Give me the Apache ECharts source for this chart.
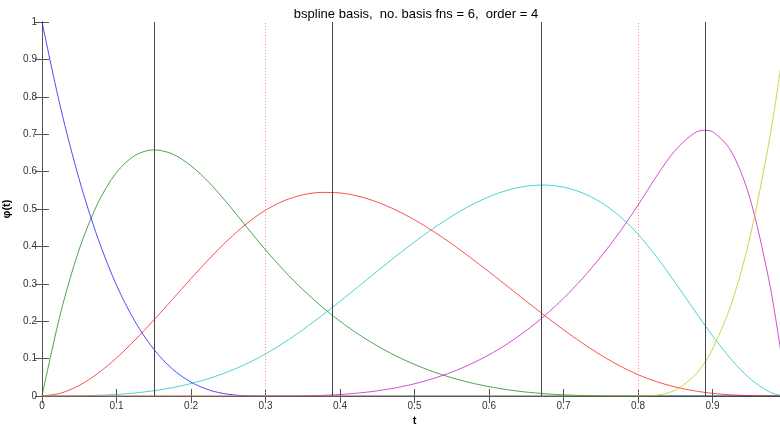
<!DOCTYPE html>
<html>
<head>
<meta charset="utf-8">
<script src="https://cdn.jsdelivr.net/npm/echarts@6/dist/echarts.min.js"></script>
<style>
  html, body { margin: 0; padding: 0; background: #fff; overflow: hidden; }
  #chart { width: 792px; height: 427px; }
</style>
</head>
<body>
<div id="chart"></div>
<script>
// Sample points along t, shared by every basis function
const tValues = [
  0, 0.025, 0.05, 0.075, 0.1, 0.125, 0.15, 0.175, 0.2, 0.225, 0.25, 0.275, 0.3,
  0.325, 0.35, 0.375, 0.4, 0.425, 0.45, 0.475, 0.5, 0.525, 0.55, 0.575, 0.6,
  0.625, 0.65, 0.675, 0.7, 0.725, 0.75, 0.775, 0.8,
  0.825, 0.85, 0.875, 0.8875, 0.9, 0.925, 0.95, 0.975, 0.9875, 1
];

// Basis function values at each t
const basis1 = [
  1, 0.7703, 0.5787, 0.4219, 0.2963, 0.1985, 0.125, 0.0723, 0.0370, 0.0156, 0.0046, 0.0006, 0,
  0, 0, 0, 0, 0, 0, 0, 0, 0, 0, 0, 0, 0, 0, 0, 0, 0, 0, 0, 0,
  0, 0, 0, 0, 0, 0, 0, 0, 0, 0
];
const basis2 = [
  0, 0.2222, 0.3924, 0.5159, 0.5978, 0.6435, 0.6582, 0.6472, 0.6157, 0.5691, 0.5125, 0.4513, 0.3906,
  0.3349, 0.2848, 0.2399, 0.2000, 0.1648, 0.1340, 0.1073, 0.0844, 0.0650, 0.0488, 0.0356, 0.0250,
  0.0167, 0.0105, 0.0061, 0.0031, 0.0013, 0.0004, 0.0000, 0,
  0, 0, 0, 0, 0, 0, 0, 0, 0, 0
];
const basis3 = [
  0, 0.0075, 0.0283, 0.0605, 0.1017, 0.1499, 0.2027, 0.2581, 0.3139, 0.3678, 0.4178, 0.4615, 0.4969,
  0.5222, 0.5378, 0.5444, 0.5429, 0.5340, 0.5185, 0.4972, 0.4710, 0.4406, 0.4068, 0.3703, 0.3321,
  0.2929, 0.2535, 0.2147, 0.1772, 0.1420, 0.1097, 0.0811, 0.0571,
  0.0383, 0.0241, 0.0140, 0.0102, 0.0071, 0.0030, 0.0009, 0.0001, 0, 0
];
const basis4 = [
  0, 0.0001, 0.0005, 0.0018, 0.0042, 0.0081, 0.0141, 0.0223, 0.0333, 0.0475, 0.0651, 0.0867, 0.1125,
  0.1428, 0.1769, 0.2140, 0.2530, 0.2932, 0.3337, 0.3736, 0.4119, 0.4479, 0.4806, 0.5092, 0.5327,
  0.5503, 0.5610, 0.5640, 0.5585, 0.5434, 0.5180, 0.4815, 0.4327,
  0.3718, 0.3031, 0.2312, 0.1957, 0.1613, 0.0982, 0.0469, 0.0126, 0.0032, 0
];
const basis5 = [
  0, 0, 0, 0, 0, 0, 0, 0, 0, 0, 0, 0, 0,
  0.0001, 0.0005, 0.0017, 0.0041, 0.0080, 0.0138, 0.0219, 0.0327, 0.0465, 0.0638, 0.0849, 0.1102,
  0.1401, 0.1750, 0.2152, 0.2612, 0.3133, 0.3719, 0.4374, 0.5102,
  0.5879, 0.6572, 0.7021, 0.7104, 0.7066, 0.6547, 0.5303, 0.3174, 0.1728, 0
];
const basis6 = [
  0, 0, 0, 0, 0, 0, 0, 0, 0, 0, 0, 0, 0,
  0, 0, 0, 0, 0, 0, 0, 0, 0, 0, 0, 0, 0, 0, 0, 0, 0, 0, 0, 0,
  0.0020, 0.0156, 0.0527, 0.0837, 0.125, 0.2441, 0.4219, 0.6699, 0.8240, 1
];

// Vertical reference lines
const solidLines = [0.147, 0.3857, 0.668, 0.894];
const interiorKnots = [0.3, 0.8];

const xTicks = [0, 0.1, 0.2, 0.3, 0.4, 0.5, 0.6, 0.7, 0.8, 0.9, 1];
const yTicks = [0, 0.1, 0.2, 0.3, 0.4, 0.5, 0.6, 0.7, 0.8, 0.9, 1];

const basisSets = [basis1, basis2, basis3, basis4, basis5, basis6];
const lineColors = ['#0000ff', '#008000', '#ff0000', '#00bfbf', '#bf00bf', '#bfbf00'];

const axisGray = '#555555';
const fontFamily = 'Liberation Sans, Arial, sans-serif';
const labelStyle = { color: '#333', fontSize: 10, fontFamily: fontFamily };

function fmt(v) { return String(Math.round(v * 10) / 10); }

const chart = echarts.init(document.getElementById('chart'), null, { renderer: 'canvas' });

const series = basisSets.map((vals, i) => ({
  type: 'line',
  xAxisIndex: 0,
  yAxisIndex: 0,
  data: tValues.map((t, k) => [t, vals[k]]),
  showSymbol: false,
  smooth: 0.3,
  lineStyle: { color: lineColors[i], width: 1, opacity: 0.7 },
  z: 3,
  silent: true,
  animation: false
}));

series.push({
  type: 'line',
  data: [],
  markLine: {
    silent: true,
    symbol: 'none',
    label: { show: false },
    animation: false,
    data: solidLines.map(x => ({ xAxis: x, lineStyle: { color: '#444', width: 1, type: 'solid' } }))
      .concat(interiorKnots.map(x => ({ xAxis: x, lineStyle: { color: '#ff8a8a', width: 1, type: [1, 2] } })))
  },
  z: 2
});

function boxAxis(position) {
  return {
    type: 'value', position: position, min: 0, max: 1, interval: 0.1,
    axisLine: { show: true, lineStyle: { color: axisGray } },
    axisTick: { show: true, inside: true, length: 7, lineStyle: { color: axisGray } },
    axisLabel: { show: false },
    splitLine: { show: false }
  };
}

const option = {
  animation: false,
  title: {
    text: 'bspline basis,  no. basis fns = 6,  order = 4',
    left: 411,
    textAlign: 'center',
    top: 3,
    textStyle: { fontSize: 13, fontWeight: 'normal', color: '#000', fontFamily: fontFamily }
  },
  grid: { left: 42, top: 22, width: 745, height: 374, containLabel: false, outerBoundsMode: 'none' },
  xAxis: [
    {
      type: 'value', position: 'bottom', min: 0, max: 1, interval: 0.1,
      axisLine: { show: true, lineStyle: { color: axisGray } },
      axisTick: { show: true, inside: true, length: 7, lineStyle: { color: axisGray } },
      axisLabel: Object.assign({ margin: 5, formatter: v => xTicks.includes(Math.round(v * 10) / 10) ? fmt(v) : '' }, labelStyle),
      splitLine: { show: false },
      name: 't', nameLocation: 'middle', nameGap: 15,
      nameTextStyle: { color: '#000', fontSize: 11, fontWeight: 'bold', fontFamily: fontFamily }
    },
    boxAxis('top')
  ],
  yAxis: [
    {
      type: 'value', position: 'left', min: 0, max: 1, interval: 0.1,
      axisLine: { show: true, lineStyle: { color: axisGray } },
      axisTick: { show: true, inside: true, length: 7, lineStyle: { color: axisGray } },
      axisLabel: Object.assign({ margin: 5, formatter: v => yTicks.includes(Math.round(v * 10) / 10) ? fmt(v) : '' }, labelStyle),
      splitLine: { show: false },
      name: 'φ(t)', nameLocation: 'middle', nameGap: 23, nameRotate: 90,
      nameTextStyle: { color: '#000', fontSize: 11, fontWeight: 'bold', fontFamily: fontFamily }
    },
    boxAxis('right')
  ],
  series: series
};

chart.setOption(option);
</script>
</body>
</html>
